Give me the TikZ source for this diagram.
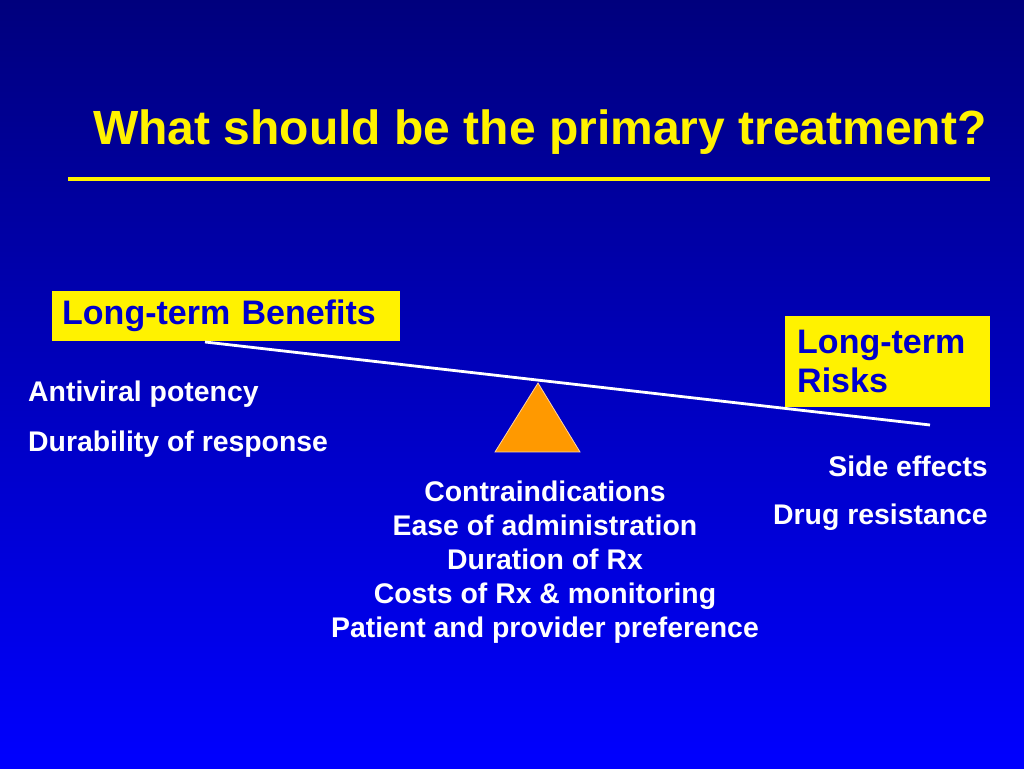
\documentclass[tikz,border=0pt]{standalone}
\usepackage{fontspec}
\setmainfont{Liberation Sans}
\usepackage{tikz}
\usetikzlibrary{positioning,calc}
\definecolor{slidetop}{RGB}{0,0,125}
\definecolor{slidebot}{RGB}{0,0,255}
\definecolor{boxblue}{RGB}{0,0,204}
\definecolor{pivot}{RGB}{255,153,0}

\begin{document}
\begin{tikzpicture}[x=1pt,y=1pt,
  bodytext/.style={text=white, inner sep=0pt, font=\fontsize{28.4}{34}\selectfont\bfseries},
  yellowbox/.style={fill=yellow, text=boxblue, inner sep=0pt, font=\fontsize{34}{39}\selectfont\bfseries}]
\useasboundingbox (0,0) rectangle (1024,768);
\shade[top color=slidetop, bottom color=slidebot] (0,0) rectangle (1024,768);
\node[anchor=base west, inner sep=0pt, text=yellow, font=\fontsize{48}{56}\selectfont\bfseries] (title) at (93,623) {What should be the primary treatment?};
\coordinate (ruleL) at (68,589);
\coordinate (ruleR) at (990,589);
\draw[yellow, line width=3.5pt] (ruleL) -- (ruleR);
\node[yellowbox, anchor=north west, minimum width=348pt, minimum height=50pt, text width=328pt, align=left] (ben) at (52,477) {Long-term Benefits};
\node[yellowbox, anchor=north west, minimum width=205pt, minimum height=91pt, text width=181pt, align=left] (risk) at (785,452) {Long-term\\Risks};
\coordinate (beamL) at (205,426);
\coordinate (beamR) at (930,343);
\draw[white, line width=2.8pt] (beamL) -- (beamR);
\draw[fill=pivot, draw={rgb,255:red,255;green,214;blue,160}, line width=0.8pt] (538,385) -- (580,316) -- (495,316) -- cycle;
\node[bodytext, anchor=base west] (potency) at (28,366) {Antiviral potency};
\node[bodytext, anchor=base west] (durab) at (28,316) {Durability of response};
\node[bodytext, anchor=base east] (side) at (988,291) {Side effects};
\node[bodytext, anchor=base east] (resist) at (988,243) {Drug resistance};
\node[bodytext, anchor=north, align=center] (factors) at (545,287) {Contraindications\\Ease of administration\\Duration of Rx\\Costs of Rx \& monitoring\\Patient and provider preference};
\end{tikzpicture}
\end{document}
